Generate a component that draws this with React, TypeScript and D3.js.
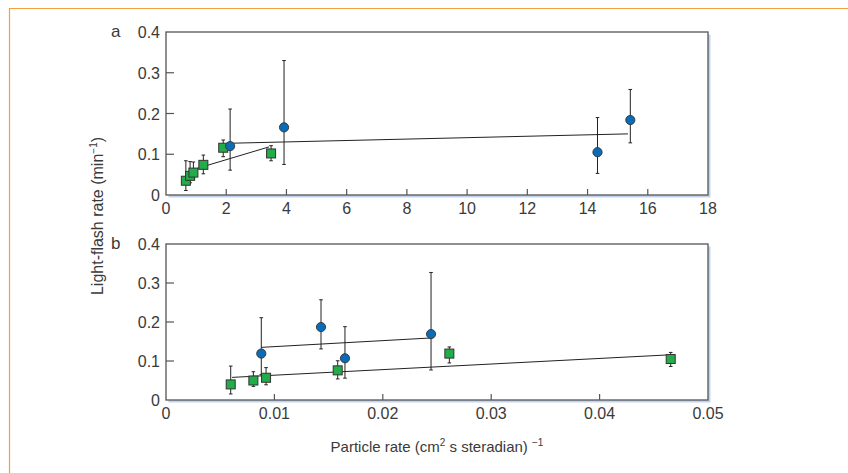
import React from "react";
import * as d3 from "d3";

// Panel a: particle rate (arb.) vs light-flash rate
const aGreenX = [0.66, 0.8, 0.91, 1.24, 1.9, 3.49];
const aGreenY = [0.035, 0.047, 0.055, 0.074, 0.116, 0.102];
const aGreenLo = [0.011, 0.03, 0.04, 0.052, 0.094, 0.084];
const aGreenHi = [0.084, 0.082, 0.081, 0.098, 0.135, 0.121];
const aBlueX = [2.13, 3.92, 14.33, 15.42];
const aBlueY = [0.12, 0.166, 0.105, 0.184];
const aBlueLo = [0.061, 0.075, 0.053, 0.128];
const aBlueHi = [0.211, 0.33, 0.19, 0.259];
const aBlueFit = [[2.13, 0.127], [15.34, 0.15]];
const aGreenFit = [[0.75, 0.059], [3.42, 0.118]];
const aXTicks = [0, 2, 4, 6, 8, 10, 12, 14, 16, 18];

// Panel b
const bGreenX = [0.00597, 0.00806, 0.00923, 0.01584, 0.02614, 0.04656];
const bGreenY = [0.04, 0.05, 0.057, 0.076, 0.119, 0.105];
const bGreenLo = [0.0155, 0.035, 0.039, 0.054, 0.095, 0.086];
const bGreenHi = [0.087, 0.0725, 0.083, 0.1006, 0.136, 0.122];
const bBlueX = [0.00879, 0.0143, 0.01651, 0.02445];
const bBlueY = [0.119, 0.187, 0.107, 0.169];
const bBlueLo = [0.065, 0.131, 0.056, 0.077];
const bBlueHi = [0.211, 0.257, 0.188, 0.327];
const bBlueFit = [[0.0088, 0.135], [0.0244, 0.159]];
const bGreenFit = [[0.0061, 0.058], [0.0466, 0.116]];
const bXTicks = [0, 0.01, 0.02, 0.03, 0.04, 0.05];

const yTicks = [0, 0.1, 0.2, 0.3, 0.4];

const GREEN = "#22ad4a";
const BLUE = "#0a6cb6";
const FONT = "'Liberation Sans', Arial, sans-serif";
const TXT = "#3a3a3a";

type PanelProps = {
  label: string;
  top: number;
  bottom: number;
  xMax: number;
  xTicks: number[];
  fmt: (v: number) => string;
  gx: number[]; gy: number[]; glo: number[]; ghi: number[];
  bx: number[]; by: number[]; blo: number[]; bhi: number[];
  bFit: number[][]; gFit: number[][];
};

function Panel(p: PanelProps) {
  const left = 166, right = 708;
  const x = d3.scaleLinear().domain([0, p.xMax]).range([left, right]);
  const y = d3.scaleLinear().domain([0, 0.4]).range([p.bottom, p.top]);
  const line = d3.line<number[]>().x((d) => x(d[0])).y((d) => y(d[1]));
  const cap = 1.8;
  const errBar = (xs: number[], lo: number[], hi: number[], key: string) =>
    xs.map((xv, i) => (
      <g key={key + i} stroke="#222" strokeWidth={1}>
        <line x1={x(xv)} x2={x(xv)} y1={y(lo[i])} y2={y(hi[i])} />
        <line x1={x(xv) - cap} x2={x(xv) + cap} y1={y(lo[i])} y2={y(lo[i])} />
        <line x1={x(xv) - cap} x2={x(xv) + cap} y1={y(hi[i])} y2={y(hi[i])} />
      </g>
    ));
  const w = right - left, h = p.bottom - p.top;
  return (
    <g>
      <rect x={left + 2.5} y={p.top + 2.5} width={w} height={h} fill="#c3d3ee" />
      <rect x={left} y={p.top} width={w} height={h} fill="#fff" stroke="#555" strokeWidth={1.3} />
      {p.xTicks.slice(1, -1).map((t) => (
        <line key={"xt" + t} x1={x(t)} x2={x(t)} y1={p.bottom} y2={p.bottom - 6} stroke="#555" strokeWidth={1.2} />
      ))}
      {yTicks.slice(1, -1).map((t) => (
        <line key={"yt" + t} x1={left} x2={left + 8} y1={y(t)} y2={y(t)} stroke="#555" strokeWidth={1.2} />
      ))}
      {p.xTicks.map((t) => (
        <text key={"xl" + t} x={x(t)} y={p.bottom + 19} textAnchor="middle" fontSize={16} fill={TXT} fontFamily={FONT}>
          {p.fmt(t)}
        </text>
      ))}
      {yTicks.map((t) => (
        <text key={"yl" + t} x={160} y={y(t) + 6} textAnchor="end" fontSize={16} fill={TXT} fontFamily={FONT}>
          {t === 0 ? "0" : d3.format(".1f")(t)}
        </text>
      ))}
      <text x={111} y={p.top + 5} fontSize={17} fill={TXT} fontFamily={FONT}>{p.label}</text>
      <path d={line(p.gFit) || ""} stroke="#222" strokeWidth={1} fill="none" />
      <path d={line(p.bFit) || ""} stroke="#222" strokeWidth={1} fill="none" />
      {errBar(p.gx, p.glo, p.ghi, "ge")}
      {errBar(p.bx, p.blo, p.bhi, "be")}
      {p.gx.map((xv, i) => (
        <rect key={"gs" + i} x={x(xv) - 4.5} y={y(p.gy[i]) - 4.5} width={9} height={9} fill={GREEN} stroke="#333" strokeWidth={1} />
      ))}
      {p.bx.map((xv, i) => (
        <circle key={"bc" + i} cx={x(xv)} cy={y(p.by[i])} r={4.6} fill={BLUE} stroke="#333" strokeWidth={0.9} />
      ))}
    </g>
  );
}

export default function App() {
  return (
    <svg width={848} height={473} style={{ position: "absolute", left: 0, top: 0, background: "#fff" }}>
      <rect x={0} y={0} width={848} height={473} fill="#fff" />
      <path d="M9.5,480 L9.5,8.5 L860,8.5" fill="none" stroke="#f0a040" strokeWidth={1.2} />
      <Panel label="a" top={32} bottom={195} xMax={18} xTicks={aXTicks} fmt={(v) => String(v)}
        gx={aGreenX} gy={aGreenY} glo={aGreenLo} ghi={aGreenHi}
        bx={aBlueX} by={aBlueY} blo={aBlueLo} bhi={aBlueHi}
        bFit={aBlueFit} gFit={aGreenFit} />
      <Panel label="b" top={244} bottom={400} xMax={0.05} xTicks={bXTicks} fmt={(v) => (v === 0 ? "0" : d3.format(".2f")(v))}
        gx={bGreenX} gy={bGreenY} glo={bGreenLo} ghi={bGreenHi}
        bx={bBlueX} by={bBlueY} blo={bBlueLo} bhi={bBlueHi}
        bFit={bBlueFit} gFit={bGreenFit} />
      <text transform="translate(103,216) rotate(-90)" textAnchor="middle" fontSize={16} fill={TXT} fontFamily={FONT}>
        Light-flash rate (min<tspan dy={-6} fontSize={10}>−1</tspan><tspan dy={6}>)</tspan>
      </text>
      <text x={437} y={452} textAnchor="middle" fontSize={15} fill={TXT} fontFamily={FONT}>
        Particle rate (cm<tspan dy={-6} fontSize={10}>2</tspan><tspan dy={6}> s steradian) </tspan><tspan dy={-6} fontSize={10}>−1</tspan>
      </text>
    </svg>
  );
}
